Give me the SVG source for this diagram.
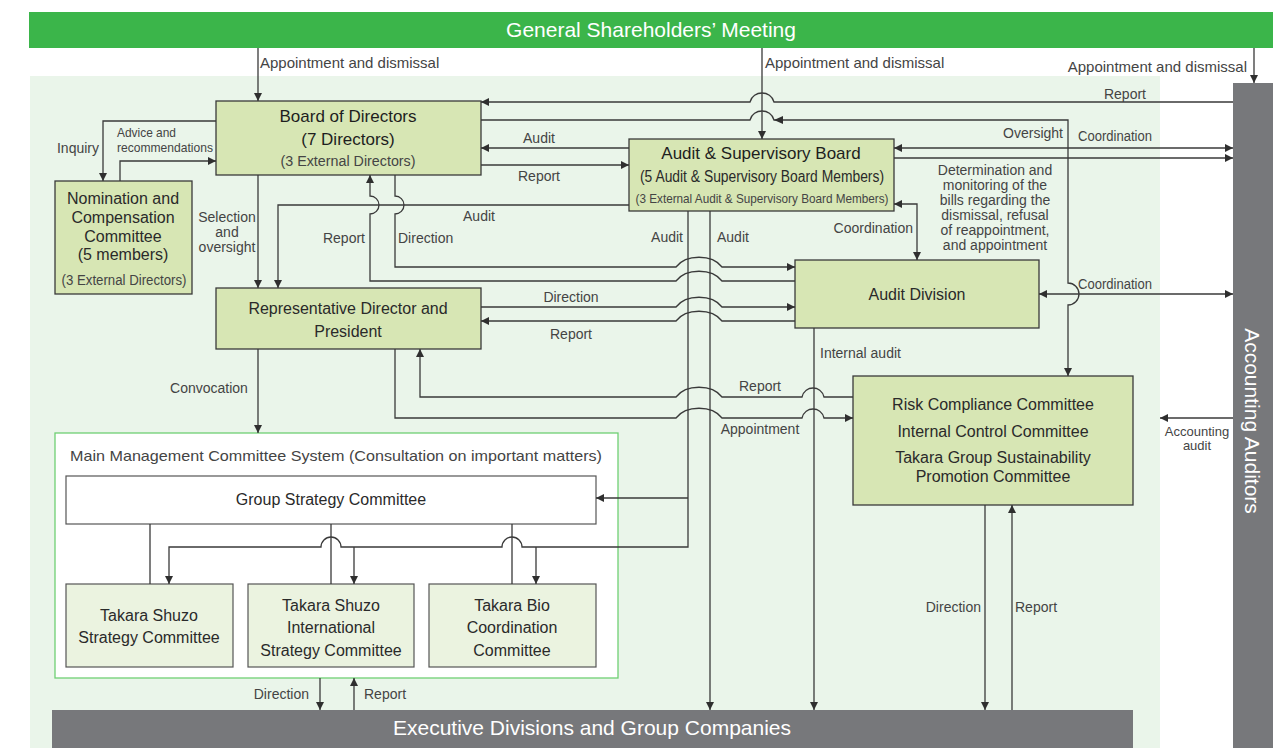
<svg xmlns="http://www.w3.org/2000/svg" width="1278" height="748" viewBox="0 0 1278 748">
<defs>
<marker id="ah" viewBox="0 0 10 10" refX="10" refY="5" markerWidth="9" markerHeight="8" markerUnits="userSpaceOnUse" orient="auto-start-reverse"><path d="M0,0 L10,5 L0,10 z" fill="#2f2f2f"/></marker>
<style>
text{font-family:"Liberation Sans",Arial,sans-serif;}
.node{fill:#d7e6b4;stroke:#3a3a3a;stroke-width:1.3;}
.sub{fill:#ebf3e0;stroke:#555;stroke-width:1.2;}
.t{font-size:17px;fill:#1e1e1e;text-anchor:middle;}
.ts{font-size:16px;fill:#2a2a2a;text-anchor:middle;}
.lab{font-size:14px;fill:#444;}
.mid{text-anchor:middle;}
.end{text-anchor:end;}
.w{fill:#fff;font-size:21px;text-anchor:middle;}
.c path,.c line{fill:none;stroke:#3a3a3a;stroke-width:1.3;}
.a{marker-end:url(#ah);}
.b{marker-start:url(#ah);marker-end:url(#ah);}
</style>
</defs>
<rect x="0" y="0" width="1278" height="748" fill="#fff"/>
<rect x="30" y="76" width="1130" height="672" fill="#eaf5ea"/>

<g id="gsm"><rect x="29" y="12" width="1244" height="36" fill="#3bb54a"/><text class="w" x="651" y="37">General Shareholders’ Meeting</text></g>
<g id="auditors"><rect x="1233" y="83" width="40" height="665" fill="#77787b"/><text class="w" transform="translate(1252,421) rotate(90)" x="0" y="7">Accounting Auditors</text></g>
<g id="exec"><rect x="52" y="710" width="1081" height="38" fill="#77787b"/><text class="w" x="592" y="735">Executive Divisions and Group Companies</text></g>

<g id="board"><rect class="node" x="216" y="101" width="265" height="74"/>
<text class="t" x="348" y="122">Board of Directors</text><text class="t" x="348" y="145">(7 Directors)</text>
<text class="lab mid" x="348" y="166" fill="#333" textLength="135" lengthAdjust="spacingAndGlyphs">(3 External Directors)</text></g>

<g id="nomination"><rect class="node" x="55" y="181" width="137" height="113"/>
<text class="ts" x="123" y="204">Nomination and</text><text class="ts" x="123" y="223">Compensation</text><text class="ts" x="123" y="242">Committee</text><text class="ts" x="123" y="260">(5 members)</text>
<text class="lab mid" x="124" y="285" textLength="125" lengthAdjust="spacingAndGlyphs">(3 External Directors)</text></g>

<g id="asb"><rect class="node" x="629" y="139" width="265" height="72"/>
<text class="t" x="761" y="159">Audit &amp; Supervisory Board</text>
<text class="ts" x="762" y="182" textLength="244" lengthAdjust="spacingAndGlyphs">(5 Audit &amp; Supervisory Board Members)</text>
<text class="lab mid" x="762" y="203" textLength="253" lengthAdjust="spacingAndGlyphs" style="font-size:13px">(3 External Audit &amp; Supervisory Board Members)</text></g>

<g id="auditdiv"><rect class="node" x="795" y="260" width="244" height="68"/><text class="ts" x="917" y="300">Audit Division</text></g>

<g id="president"><rect class="node" x="216" y="288" width="265" height="61"/>
<text class="ts" x="348" y="314">Representative Director and</text><text class="ts" x="348" y="337">President</text></g>

<g id="risk"><rect class="node" x="853" y="376" width="280" height="129"/>
<text class="ts" x="993" y="410">Risk Compliance Committee</text>
<text class="ts" x="993" y="437">Internal Control Committee</text>
<text class="ts" x="993" y="463">Takara Group Sustainability</text>
<text class="ts" x="993" y="482">Promotion Committee</text></g>

<g id="mmcs"><rect x="55" y="433" width="563" height="245" fill="#fff" stroke="#6fcf73" stroke-width="1.3"/>
<text class="lab mid" x="336" y="461" style="font-size:15px" fill="#222" textLength="532" lengthAdjust="spacingAndGlyphs">Main Management Committee System (Consultation on important matters)</text></g>
<g id="gsc"><rect x="66" y="476" width="530" height="48" fill="#fff" stroke="#555" stroke-width="1.2"/><text class="ts" x="331" y="505">Group Strategy Committee</text></g>
<g id="tssc"><rect class="sub" x="66" y="584" width="167" height="83"/><text class="ts" x="149" y="621">Takara Shuzo</text><text class="ts" x="149" y="643">Strategy Committee</text></g>
<g id="tsisc"><rect class="sub" x="248" y="584" width="166" height="83"/><text class="ts" x="331" y="611">Takara Shuzo</text><text class="ts" x="331" y="633">International</text><text class="ts" x="331" y="656">Strategy Committee</text></g>
<g id="tbcc"><rect class="sub" x="429" y="584" width="167" height="83"/><text class="ts" x="512" y="611">Takara Bio</text><text class="ts" x="512" y="633">Coordination</text><text class="ts" x="512" y="656">Committee</text></g>

<g id="connectors" class="c">
<path class="a" d="M258,48 V101"/>
<path class="a" d="M762,48 V139"/>
<path class="a" d="M1254,48 V83"/>
<path class="a" d="M1233,102 H774 C771,90 753,90 750,102 H481"/>
<path class="a" d="M481,120 H750 C753,108 771,108 774,120 H1068 V283 A11,11 0 0 1 1068,305 V376"/>
<path class="a" d="M629,148 H481"/>
<path class="a" d="M481,165 H629"/>
<path class="a" d="M629,205 H278 V288"/>
<path class="a" d="M258,175 V288"/>
<path class="a" d="M795,281 H722 C712,268 686,268 676,281 H370 V214 A9,9 0 0 0 370,196 V175"/>
<path class="a" d="M395,175 V196 A9,9 0 0 1 395,214 V267 H676 C686,254 712,254 722,267 H795"/>
<path class="a" d="M481,307 H676 C686,294 712,294 722,307 H795"/>
<path class="a" d="M795,321 H722 C712,308 686,308 676,321 H481"/>
<path class="a" d="M688,211 V547 H522 A10,10 0 0 0 502,547 H341 A10,10 0 0 0 321,547 H169 V584"/>
<path class="a" d="M688,498 H596"/>
<path class="a" d="M354,547 V584"/>
<path class="a" d="M536,547 V584"/>
<path d="M150,524 V584 M331,524 V584 M512,524 V584"/>
<path class="a" d="M710,211 V710"/>
<path class="a" d="M814,328 V710"/>
<path class="a" d="M258,349 V433"/>
<path class="a" d="M853,397 H824 C821,385 805,385 802,397 H722 C712,384 686,384 676,397 H420 V349"/>
<path class="a" d="M395,349 V418 H676 C686,405 712,405 722,418 H802 C805,406 821,406 824,418 H853"/>
<path class="a" d="M985,505 V710"/>
<path class="a" d="M1012,710 V505"/>
<path class="a" d="M320,678 V710"/>
<path class="a" d="M354,710 V678"/>
<path class="a" d="M216,121 H103 V181"/>
<path class="a" d="M120,181 V161 H216"/>
<path class="b" d="M894,148 H1233"/>
<path class="a" d="M894,158 H1233"/>
<path class="b" d="M894,204 H917 V260"/>
<path class="b" d="M1039,294 H1233"/>
<path class="a" d="M1233,418 H1160"/>
<polygon points="774,120 783,116 783,124" fill="#2f2f2f" stroke="none"/>
</g>

<g id="labels" class="lab">
<text x="260" y="68" style="font-size:15px">Appointment and dismissal</text>
<text x="765" y="68" style="font-size:15px">Appointment and dismissal</text>
<text class="end" x="1247" y="72" style="font-size:15px">Appointment and dismissal</text>
<text class="end" x="1146" y="99">Report</text>
<text class="end" x="1063" y="138">Oversight</text>
<text x="1078" y="141" textLength="74" lengthAdjust="spacingAndGlyphs">Coordination</text>
<text class="mid" x="539" y="143">Audit</text>
<text class="mid" x="539" y="181">Report</text>
<text class="end" x="99" y="153">Inquiry</text>
<text x="117" y="137" style="font-size:13px" textLength="59" lengthAdjust="spacingAndGlyphs">Advice and</text>
<text x="117" y="152" style="font-size:13px" textLength="96" lengthAdjust="spacingAndGlyphs">recommendations</text>
<text class="mid" x="227" y="222">Selection</text>
<text class="mid" x="227" y="237">and</text>
<text class="mid" x="227" y="252">oversight</text>
<text class="end" x="365" y="243">Report</text>
<text x="398" y="243">Direction</text>
<text class="mid" x="479" y="221">Audit</text>
<text class="end" x="683" y="242">Audit</text>
<text x="717" y="242">Audit</text>
<text class="end" x="913" y="233">Coordination</text>
<text class="mid" x="995" y="175">Determination and</text>
<text class="mid" x="995" y="190">monitoring of the</text>
<text class="mid" x="995" y="205">bills regarding the</text>
<text class="mid" x="995" y="220">dismissal, refusal</text>
<text class="mid" x="995" y="235">of reappointment,</text>
<text class="mid" x="995" y="250">and appointment</text>
<text x="1078" y="289" textLength="74" lengthAdjust="spacingAndGlyphs">Coordination</text>
<text class="mid" x="571" y="302">Direction</text>
<text class="mid" x="571" y="339">Report</text>
<text class="mid" x="209" y="393">Convocation</text>
<text x="820" y="358">Internal audit</text>
<text class="mid" x="760" y="391">Report</text>
<text class="mid" x="760" y="434">Appointment</text>
<text class="mid" x="1197" y="436" style="font-size:13px">Accounting</text>
<text class="mid" x="1197" y="450" style="font-size:13px">audit</text>
<text class="end" x="309" y="699">Direction</text>
<text x="364" y="699">Report</text>
<text class="end" x="981" y="612">Direction</text>
<text x="1015" y="612">Report</text>
</g>
</svg>
